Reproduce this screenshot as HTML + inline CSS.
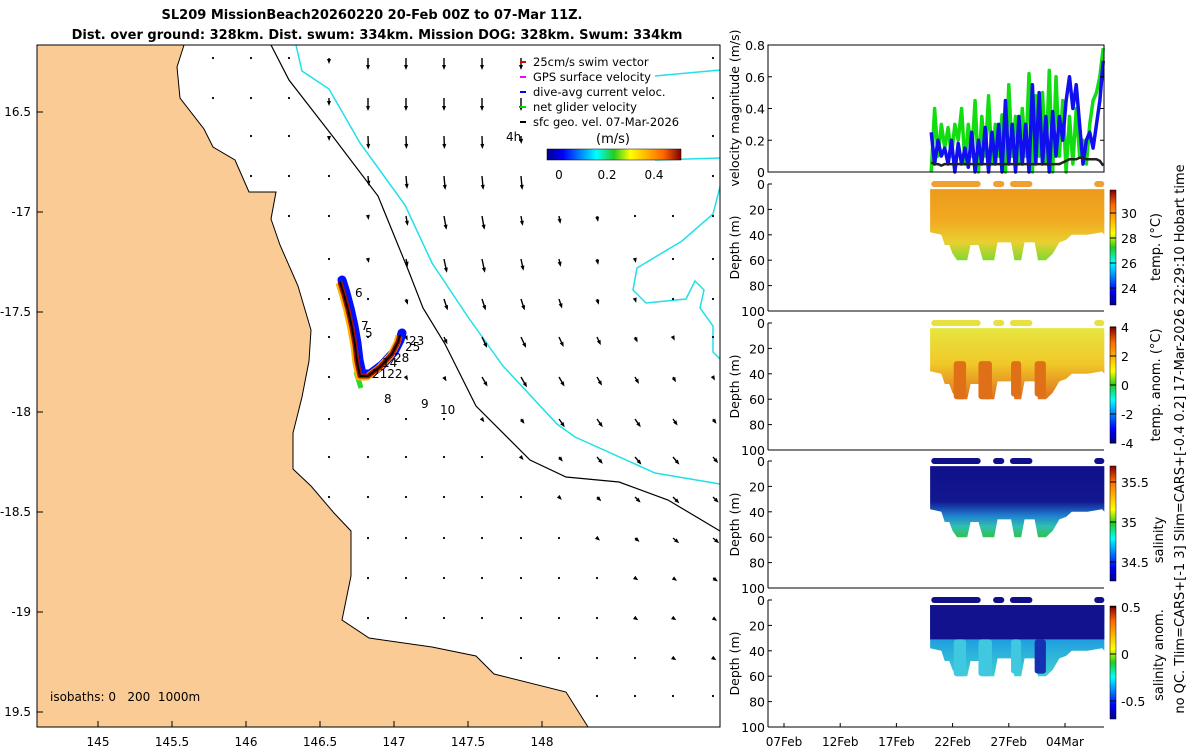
<!DOCTYPE html>
<html><head><meta charset="utf-8"><style>
body{margin:0;background:#fff;}
svg{display:block;font-family:"DejaVu Sans","Liberation Sans",sans-serif;}
</style></head><body>
<svg id="fig" width="1200" height="750" viewBox="0 0 1200 750">
<defs>
<linearGradient id="jet" x1="0" y1="1" x2="0" y2="0">
<stop offset="0" stop-color="#00008f"/><stop offset="0.12" stop-color="#0000ff"/><stop offset="0.37" stop-color="#00ffff"/><stop offset="0.5" stop-color="#22cc22"/><stop offset="0.62" stop-color="#ffff00"/><stop offset="0.87" stop-color="#ff6600"/><stop offset="1" stop-color="#800000"/></linearGradient>
<linearGradient id="jeth" x1="0" y1="0" x2="1" y2="0">
<stop offset="0" stop-color="#00008f"/><stop offset="0.12" stop-color="#0000ff"/><stop offset="0.37" stop-color="#00ffff"/><stop offset="0.5" stop-color="#22cc22"/><stop offset="0.62" stop-color="#ffff00"/><stop offset="0.87" stop-color="#ff6600"/><stop offset="1" stop-color="#800000"/></linearGradient>
<linearGradient id="tempG" x1="0" y1="0" x2="0" y2="1"><stop offset="0" stop-color="#ec9a1c"/><stop offset="0.45" stop-color="#f2aa20"/><stop offset="0.75" stop-color="#e8d030"/><stop offset="1" stop-color="#80d830"/></linearGradient>
<linearGradient id="anomG" x1="0" y1="0" x2="0" y2="1"><stop offset="0" stop-color="#e6e640"/><stop offset="0.5" stop-color="#f0c828"/><stop offset="1" stop-color="#e07020"/></linearGradient>
<linearGradient id="salG" x1="0" y1="0" x2="0" y2="1"><stop offset="0" stop-color="#10108a"/><stop offset="0.5" stop-color="#121890"/><stop offset="0.7" stop-color="#2080d0"/><stop offset="0.85" stop-color="#30c0b0"/><stop offset="1" stop-color="#30c050"/></linearGradient>
<linearGradient id="sanG" x1="0" y1="0" x2="0" y2="1"><stop offset="0" stop-color="#1030b0"/><stop offset="0.5" stop-color="#20a0e0"/><stop offset="1" stop-color="#40d0d0"/></linearGradient>
</defs>
<text x="372" y="19" text-anchor="middle" font-size="13" font-weight="bold">SL209 MissionBeach20260220 20-Feb 00Z to 07-Mar 11Z.</text>
<text x="377" y="39" text-anchor="middle" font-size="13" font-weight="bold">Dist. over ground: 328km. Dist. swum: 334km. Mission DOG: 328km. Swum: 334km</text>
<g id="map"></g>
<g id="right"></g>
</svg>
<script>
// ---- map data ----
const coast=[[184,45],[177,67],[180,98],[204,129],[213,147],[235,160],[249,192],[276,192],[271,219],[280,245],[298,286],[311,330],[309,361],[302,397],[293,433],[293,469],[311,486],[334,513],[351,531],[351,576],[342,620],[369,638],[432,647],[476,656],[494,674],[566,692],[588,727]];
const shelf=[[271,45],[289,80],[334,138],[378,196],[409,272],[423,308],[445,344],[476,406],[530,460],[566,477],[619,482],[668,500],[720,531]];
const iso1000=[[296,45],[302,71],[329,89],[360,143],[405,205],[432,263],[468,317],[503,366],[557,424],[575,437],[655,473],[720,484]];
const iso1000b=[[655,76],[720,70]];
const iso1000c=[[655,160],[720,158]];
const iso1000d=[[720,187],[713,214],[682,241],[637,268],[633,290],[646,303],[686,299],[695,281],[704,290],[700,308],[713,326],[713,352],[720,359]];
const track=[[340,282],[344,295],[348,310],[352,328],[355,345],[357,362],[360,376],[368,376],[380,367],[392,354],[398,342],[400,335]];
const arrowCols=[213,251,289,329,368,406,444,482,521,559,597,635,673,713];
const arrowRows=[58,98,136,176,216,259,299,337,377,419,457,497,538,578,618,658,696];
const arrowAng=[0,0,2,5,10,12,18,25,30,35,40,45,50,55,55,55,55];
const arrowLen=[
[1,1,1,4,10,10,10,10,10,1,1,1,1,1],[1,1,1,6,11,11,11,11,11,1,1,1,1,1],[1,1,1,3,11,11,11,11,6,3,1,1,1,1],
[1,1,1,1,8,11,12,12,12,6,1,1,1,1],[1,1,1,1,2,8,12,12,8,6,4,1,1,1],[1,1,1,1,2,6,12,12,10,6,4,2,1,1],
[1,1,1,1,1,4,10,10,10,8,4,2,1,1],[1,1,1,1,1,2,6,10,10,9,7,4,2,1],[1,1,1,1,1,2,3,9,10,9,8,6,4,2],
[1,1,1,1,1,1,1,2,4,8,8,8,6,4],[1,1,1,1,1,1,1,1,2,4,7,8,8,6],[1,1,1,1,1,1,1,1,1,2,4,6,7,6],
[1,1,1,1,1,1,1,1,1,1,2,4,6,6],[1,1,1,1,1,1,1,1,1,1,1,2,3,4],[1,1,1,1,1,1,1,1,1,1,1,2,2,3],
[1,1,1,1,1,1,1,1,1,1,1,1,2,2],[1,1,1,1,1,1,1,1,1,1,1,1,1,1]];
const lonTicks=[145,145.5,146,146.5,147,147.5,148];
const latTicks=[-16.5,-17,-17.5,-18,-18.5,-19,-19.5];
const latLabels=["16.5","-17","-17.5","-18","-18.5","-19","19.5"];
const trackLabels=[["6",355,297],["7",361,330],["5",365,337],["23",409,345],["25",405,351],["28",394,362],["14",382,367],["2122",372,378],["8",384,403],["9",421,408],["10",440,414],["4h",506,141]];
// ---- time series data ----
const greenDays=[13.1,13.4,13.7,14,14.3,14.6,14.9,15.2,15.5,15.8,16.1,16.4,16.7,17,17.3,17.6,17.9,18.2,18.5,18.8,19.1,19.4,19.7,20,20.3,20.6,20.9,21.2,21.5,21.8,22.1,22.4,22.7,23,23.3,23.6,23.9,24.2,24.5,24.8,25.1,25.4,25.7,26,26.3,26.6,26.9,27.2,27.5,27.8,28.1,28.4];
const greenVel=[0.0,0.4,0.1,0.3,0.15,0.28,0.1,0.3,0.2,0.4,0.05,0.3,0.1,0.45,0.0,0.35,0.1,0.48,0.05,0.3,0.1,0.36,0.0,0.55,0.1,0.35,0.05,0.4,0.1,0.62,0.0,0.48,0.1,0.5,0.05,0.64,0.0,0.6,0.1,0.45,0.0,0.35,0.05,0.4,0.1,0.2,0.05,0.3,0.45,0.5,0.6,0.78];
const blueVel=[0.25,0.05,0.2,0.1,0.15,0.05,0.2,0.0,0.18,0.05,0.15,0.03,0.25,0.0,0.2,0.05,0.28,0.0,0.25,0.05,0.3,0.0,0.45,0.05,0.3,0.0,0.35,0.05,0.3,0.0,0.55,0.05,0.5,0.05,0.35,0.0,0.38,0.1,0.35,0.2,0.45,0.6,0.4,0.55,0.3,0.05,0.2,0.25,0.15,0.3,0.45,0.7];
const sfcVel=[0.06,0.05,0.05,0.04,0.05,0.05,0.05,0.05,0.05,0.05,0.05,0.05,0.05,0.05,0.05,0.05,0.05,0.05,0.05,0.05,0.05,0.05,0.05,0.05,0.05,0.05,0.05,0.05,0.05,0.05,0.05,0.05,0.05,0.05,0.05,0.05,0.05,0.05,0.05,0.06,0.07,0.08,0.08,0.08,0.09,0.09,0.08,0.08,0.08,0.08,0.07,0.04];
const secDays=[13.0,14.0,14.3,14.7,15.0,15.4,16.3,16.6,17.3,17.7,18.7,19.0,20.2,20.5,21.1,21.4,22.3,22.6,23.3,23.9,24.5,25.1,25.6,27.0,28.3,28.5];
const secBottom=[38,40,48,48,55,60,60,48,48,60,60,46,46,60,60,46,46,60,60,55,46,44,40,40,38,40];
const fingerDays=[[15.1,16.2],[17.3,18.5],[20.2,21.1],[22.3,23.3]];
const fingerDepth=[60,60,58,58];
const timeTicks=[0,5,10,15,20,25];
const timeLabels=["07Feb","12Feb","17Feb","22Feb","27Feb","04Mar"];
const velTicks=[0,0.2,0.4,0.6,0.8];
const depthTicks=[0,20,40,60,80,100];
const panels=[
 {top:184,name:"temperature",grad:"tempG",cb:[190,305],ticks:[["30",213],["28",238],["26",263],["24",288]],label:"temp. (°C)",lx:1160,ly:247,dot:"#f0a030"},
 {top:323,name:"temperature-anomaly",grad:"anomG",cb:[327,443],ticks:[["4",327],["2",356],["0",385],["-2",414],["-4",443]],label:"temp. anom. (°C)",lx:1160,ly:385,dot:"#e8e040"},
 {top:461,name:"salinity",grad:"salG",cb:[466,581],ticks:[["35.5",482],["35",522],["34.5",562]],label:"salinity",lx:1163,ly:540,dot:"#10108a"},
 {top:600,name:"salinity-anomaly",grad:"sanG",cb:[606,719],ticks:[["0.5",607],["0",654],["-0.5",701]],label:"salinity anom.",lx:1163,ly:655,dot:"#10108a"}];

const NS="http://www.w3.org/2000/svg";
function mk(tag,attrs,parent,text){const e=document.createElementNS(NS,tag);for(const k in attrs)e.setAttribute(k,attrs[k]);if(text!==undefined)e.textContent=text;parent.appendChild(e);return e;}
const pts=a=>a.map(p=>p.join(",")).join(" ");
const map=document.getElementById("map");
const lonX=l=>98+(l-145)*148, latY=l=>112+(-16.5-l)*200;
let land=mk("polygon",{points:"37,45 "+pts(coast)+" 37,727",fill:"#fbcb96",stroke:"#000","stroke-width":1},map);

let e;
e=mk("polyline",{points:pts(shelf),fill:"none",stroke:"#000","stroke-width":1.2},map);
[iso1000,iso1000b,iso1000c,iso1000d].forEach(a=>{e=mk("polyline",{points:pts(a),fill:"none",stroke:"#22e0e8","stroke-width":1.5},map);});
function coastX(y){for(let i=0;i<coast.length-1;i++){const a=coast[i],b=coast[i+1];if(y>=a[1]&&y<=b[1]){return a[0]+(b[0]-a[0])*(y-a[1])/(b[1]-a[1]||1);}}return 0;}
arrowRows.forEach((y,ri)=>{arrowCols.forEach((x,ci)=>{
 if(x<coastX(y)+8)return; if(x>530&&x<700&&y<185)return;
 const L=arrowLen[ri][ci], a=arrowAng[ri]*Math.PI/180;
 const dx=Math.sin(a)*L, dy=Math.cos(a)*L;
 const g=mk("g",{},map);
 if(L<=1){mk("circle",{cx:x,cy:y,r:1.1,fill:"#000"},g);return;}
 mk("line",{x1:x,y1:y,x2:x+dx,y2:y+dy,stroke:"#000","stroke-width":1.4},g);
 const hx=x+dx,hy=y+dy,ux=dx/L,uy=dy/L;
 mk("polygon",{points:`${hx+ux*2},${hy+uy*2} ${hx-ux*3-uy*2},${hy-uy*3+ux*2} ${hx-ux*3+uy*2},${hy-uy*3-ux*2}`,fill:"#000"},g);
});});
const tg=mk("g",{},map);
mk("polyline",{points:pts(track.map(p=>[p[0]+2,p[1]-2])),fill:"none",stroke:"#0010ff","stroke-width":9,"stroke-linejoin":"round","stroke-linecap":"round"},tg);
mk("polyline",{points:"356,372 361,388",stroke:"#22dd22","stroke-width":5,fill:"none"},tg);
mk("polyline",{points:pts(track.map(p=>[p[0]-1,p[1]+1])),fill:"none",stroke:"#ffb000","stroke-width":7,"stroke-linejoin":"round"},tg);
mk("polyline",{points:pts(track),fill:"none",stroke:"#aa1000","stroke-width":5,"stroke-linejoin":"round"},tg);
mk("polyline",{points:pts(track),fill:"none",stroke:"#000","stroke-width":2,"stroke-linejoin":"round"},tg);
trackLabels.forEach(t=>{e=mk("text",{x:t[1],y:t[2],"font-size":12},map,t[0]);});
e=mk("rect",{x:37,y:45,width:683,height:682,fill:"none",stroke:"#000","stroke-width":1},map);
lonTicks.forEach(l=>{const x=lonX(l);mk("line",{x1:x,y1:727,x2:x,y2:721,stroke:"#000"},map);e=mk("text",{x:x,y:746,"font-size":12,"text-anchor":"middle"},map,String(l));});
latTicks.forEach((l,i)=>{const y=latY(l);mk("line",{x1:37,y1:y,x2:43,y2:y,stroke:"#000"},map);e=mk("text",{x:31,y:y+4,"font-size":12,"text-anchor":"end"},map,latLabels[i]);});
e=mk("text",{x:50,y:701,"font-size":12},map,"isobaths: 0\u00a0\u00a0\u00a0200\u00a0\u00a01000m");
const legItems=[["25cm/s swim vector","#e00000"],["GPS surface velocity","#ff00ff"],["dive-avg current veloc.","#0000ff"],["net glider velocity","#00dd00"],["sfc geo. vel. 07-Mar-2026","#000"]];
legItems.forEach((it,i)=>{const y=66+i*15;const g=mk("g",{},map);
 mk("line",{x1:520,y1:y-4,x2:526,y2:y-4,stroke:it[1],"stroke-width":2},g);mk("text",{x:533,y:y,"font-size":11.5},g,it[0]);});
e=mk("text",{x:613,y:143,"font-size":13,"text-anchor":"middle"},map,"(m/s)");
e=mk("rect",{x:547,y:149,width:134,height:11,fill:"url(#jeth)",stroke:"#000","stroke-width":0.5},map);
[["0",559],["0.2",607],["0.4",654]].forEach(t=>{e=mk("text",{x:t[1],y:179,"font-size":12,"text-anchor":"middle"},map,t[0]);});

const R=document.getElementById("right");
const X0=784,PX=11.24,XL=768,XR=1104;
const tx=d=>X0+d*PX;
const vy=v=>172-v*(127/0.8);
const vg=mk("g",{},R);
function vline(arr,col,w,name){const p=mk("polyline",{points:greenDays.map((d,i)=>tx(d)+","+vy(arr[i])).join(" "),fill:"none",stroke:col,"stroke-width":w,"stroke-linejoin":"round"},vg);}
vline(greenVel,"#11dd11",3.5,"net-glider-velocity-line");
vline(blueVel,"#1010ee",3.5,"dive-avg-current-line");
vline(sfcVel,"#222",2.5,"sfc-geo-velocity-line");
mk("rect",{x:XL,y:45,width:XR-XL,height:127,fill:"none",stroke:"#000"},vg);
velTicks.forEach(v=>{mk("line",{x1:XL,y1:vy(v),x2:XL+4,y2:vy(v),stroke:"#000"},vg);mk("line",{x1:XR,y1:vy(v),x2:XR-4,y2:vy(v),stroke:"#000"},vg);e=mk("text",{x:XL-3,y:vy(v)+5,"font-size":12.5,"text-anchor":"end"},vg,String(v));});
e=mk("text",{x:0,y:0,"font-size":12.5,"text-anchor":"middle",transform:"translate(739,108) rotate(-90)"},vg,"velocity magnitude (m/s)");
panels.forEach((p,pi)=>{
 const g=mk("g",{},R);
 const dy=d=>p.top+d*1.27;
 const dg=mk("g",{},g);
 [[13.1,17.5],[18.6,19.6],[20.1,22.1],[27.6,28.5]].forEach(s=>{mk("rect",{x:tx(s[0]),y:dy(0)-3,width:tx(s[1])-tx(s[0]),height:6,rx:3,fill:p.dot},dg);});
 const poly=[[tx(13.0),dy(4)],[tx(28.5),dy(4)]].concat(secDays.slice().reverse().map((d,i,arr)=>[tx(d),dy(secBottom[secDays.length-1-i])]));
 const body=mk("polygon",{points:pts(poly),fill:`url(#${p.grad})`},g);
 if(pi===1){fingerDays.forEach((f,i)=>{e=mk("rect",{x:tx(f[0]),y:dy(30),width:tx(f[1])-tx(f[0]),height:dy(fingerDepth[i])-dy(30),rx:3,fill:"#e07018"},g);});}
 if(pi===3){mk("rect",{x:tx(13.0),y:dy(4),width:tx(28.5)-tx(13.0),height:dy(31)-dy(4),fill:"#12128f"},g);
   fingerDays.forEach((f,i)=>{e=mk("rect",{x:tx(f[0]),y:dy(31),width:tx(f[1])-tx(f[0]),height:dy(fingerDepth[i])-dy(31),rx:3,fill:i===3?"#1530b0":"#40c8e0"},g);});}
 mk("line",{x1:XL,y1:p.top,x2:XL,y2:dy(100),stroke:"#000"},g);
 mk("line",{x1:XL,y1:dy(100),x2:XR,y2:dy(100),stroke:"#000"},g);
 depthTicks.forEach(d=>{mk("line",{x1:XL,y1:dy(d),x2:XL+4,y2:dy(d),stroke:"#000"},g);e=mk("text",{x:XL-3,y:dy(d)+5,"font-size":12.5,"text-anchor":"end"},g,String(d));});
 e=mk("text",{x:0,y:0,"font-size":12.5,"text-anchor":"middle",transform:`translate(739,${dy(50)}) rotate(-90)`},g,"Depth (m)");
 e=mk("rect",{x:1110,y:p.cb[0],width:6,height:p.cb[1]-p.cb[0],fill:"url(#jet)",stroke:"#000","stroke-width":0.5},g);
 p.ticks.forEach(t=>{mk("line",{x1:1110,y1:t[1],x2:1116,y2:t[1],stroke:"#000"},g);e=mk("text",{x:1121,y:t[1]+5,"font-size":12.5},g,t[0]);});
 e=mk("text",{x:0,y:0,"font-size":13,"text-anchor":"middle",transform:`translate(${p.lx},${p.ly}) rotate(-90)`},g,p.label);
 if(pi===3){timeTicks.forEach((d,i)=>{mk("line",{x1:tx(d),y1:dy(100),x2:tx(d),y2:dy(100)-4,stroke:"#000"},g);e=mk("text",{x:tx(d),y:746,"font-size":12,"text-anchor":"middle"},g,timeLabels[i]);});}
});
e=mk("text",{x:0,y:0,"font-size":13,"text-anchor":"middle",transform:"translate(1184,439) rotate(-90)"},R,"no QC. Tlim=CARS+[-1 3] Slim=CARS+[-0.4 0.2] 17-Mar-2026 22:29:10 Hobart time");


</script>
</body></html>
